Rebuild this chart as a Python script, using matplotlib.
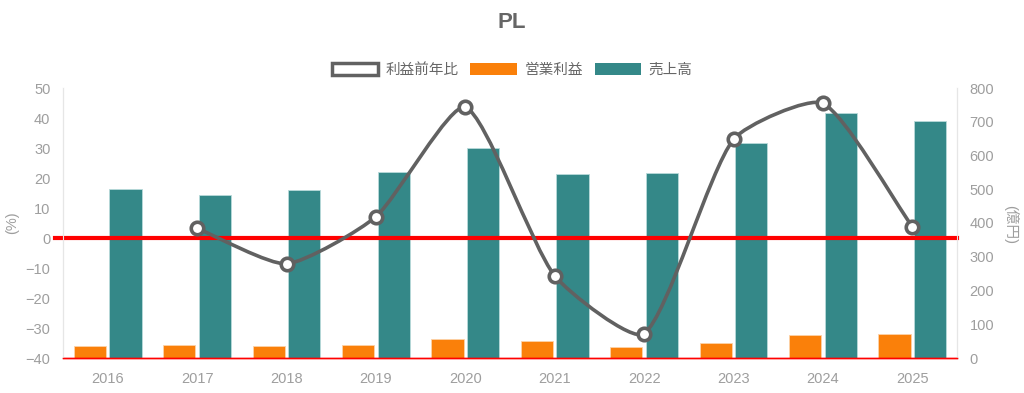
"""PL chart: sales / operating profit bars with profit YoY line."""
import matplotlib.pyplot as plt
import numpy as np
from matplotlib.patches import Patch, PathPatch
from matplotlib.path import Path

plt.rcParams["font.family"] = ["Liberation Sans", "Noto Sans CJK JP", "DejaVu Sans"]

# ------------------ DATA ------------------ #
YEARS = ["2016", "2017", "2018", "2019", "2020", "2021", "2022", "2023", "2024", "2025"]
SALES = [500, 484, 498, 550, 623, 545, 547, 638, 726, 702]  # 億円
OP_PROFIT = [37, 39, 35, 39, 56, 50, 33, 44, 67, 70]  # 億円
PROFIT_YOY = [None, 3.2, -8.6, 7.1, 43.6, -12.6, -31.9, 32.9, 44.9, 3.8]  # %
# ---------------- END DATA ---------------- #

TEAL = "#348888"
ORANGE = "#fa800a"
LINE_GRAY = "#616161"
TEXT_GRAY = "#9e9e9e"


def spline_path(ax, xs, ys, tension=0.2):
    """Bezier spline through points (chart.js style), built in pixel space."""
    pts = ax.transData.transform(np.column_stack([xs, ys]))
    n = len(pts)
    ctrl = []
    for i in range(n):
        prev = pts[i - 1] if i > 0 else pts[i]
        cur = pts[i]
        nxt = pts[i + 1] if i < n - 1 else pts[i]
        d01 = np.hypot(*(cur - prev))
        d12 = np.hypot(*(nxt - cur))
        tot = d01 + d12
        s01 = d01 / tot if tot else 0
        s12 = d12 / tot if tot else 0
        ctrl.append((cur - tension * s01 * (nxt - prev), cur + tension * s12 * (nxt - prev)))
    verts = [pts[0]]
    codes = [Path.MOVETO]
    for i in range(1, n):
        verts += [ctrl[i - 1][1], ctrl[i][0], pts[i]]
        codes += [Path.CURVE4] * 3
    data_verts = ax.transData.inverted().transform(np.array(verts))
    return Path(data_verts, codes)


fig = plt.figure(figsize=(10.24, 3.93), dpi=100)
ax = fig.add_axes([63 / 1024, 35 / 393, 894 / 1024, 270 / 393])
ax2 = ax.twinx()
ax.set_zorder(ax2.get_zorder() + 1)
ax.patch.set_visible(False)

x = np.arange(len(YEARS))
ax2.bar(x - 0.2, OP_PROFIT, width=0.36, color=ORANGE, edgecolor="#fdd3a8", linewidth=0.6)
ax2.bar(x + 0.2, SALES, width=0.36, color=TEAL, edgecolor="#b9dada", linewidth=0.6)

ax.set_xlim(-0.5, len(YEARS) - 0.5)
ax.set_ylim(-40, 50)
ax2.set_ylim(0, 800)
ax.set_yticks(np.arange(-40, 51, 10))
ax2.set_yticks(np.arange(0, 801, 100))
ax.set_xticks(x)
ax.set_xticklabels(YEARS)

# zero line for the YoY axis
ax.plot([-0.59, len(YEARS) - 0.5], [0, 0], color="red", linewidth=3, clip_on=False, zorder=1)

# YoY line (first year has no value)
lx = [i for i, v in enumerate(PROFIT_YOY) if v is not None]
ly = [v for v in PROFIT_YOY if v is not None]
path = spline_path(ax, lx, ly)
ax.add_patch(PathPatch(path, facecolor="none", edgecolor=LINE_GRAY, linewidth=2.6, zorder=3))
ax.plot(lx, ly, linestyle="none", marker="o", markersize=9, markerfacecolor="white",
        markeredgecolor=LINE_GRAY, markeredgewidth=2.6, zorder=4)

for a in (ax, ax2):
    a.spines["top"].set_visible(False)
    a.spines["left"].set_color("#e6e6e6")
    a.spines["right"].set_color("#e6e6e6")
    a.spines["bottom"].set_color("red")
    a.spines["bottom"].set_linewidth(1)
    a.tick_params(axis="both", length=0, labelsize=10.5, colors=TEXT_GRAY)
ax.tick_params(axis="y", pad=9)
ax2.tick_params(axis="y", pad=9)
ax.tick_params(axis="x", pad=10)

fig.text(0.5, 1 - 22 / 393, "PL", ha="center", va="center", fontsize=16,
         fontweight="bold", color="#666666")
fig.text(12 / 1024, 1 - 223 / 393, "(%)", rotation=90, ha="center", va="center",
         fontsize=10.5, color=TEXT_GRAY)
fig.text(1011 / 1024, 1 - 225 / 393, "(億円)", rotation=-90, ha="center", va="center",
         fontsize=10.5, color=TEXT_GRAY)

handles = [
    Patch(facecolor="white", edgecolor=LINE_GRAY, linewidth=2.5),
    Patch(facecolor=ORANGE),
    Patch(facecolor=TEAL),
]
fig.legend(handles, ["利益前年比", "営業利益", "売上高"], loc="center",
           bbox_to_anchor=(0.5, 1 - 70 / 393), ncol=3, frameon=False, fontsize=10.5,
           handlelength=3.2, handleheight=0.9, handletextpad=0.5, columnspacing=0.8,
           labelcolor="#666666")

fig.savefig("out.png", dpi=100)
